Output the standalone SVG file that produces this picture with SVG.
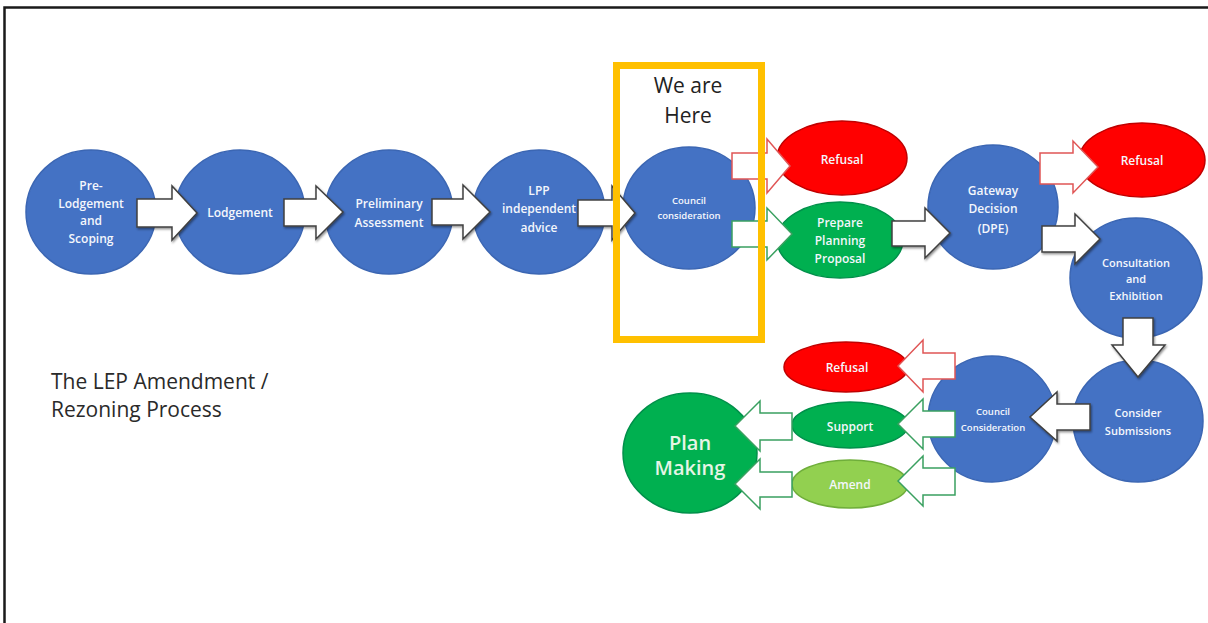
<svg xmlns="http://www.w3.org/2000/svg" width="1208" height="623" viewBox="0 0 1208 623">
<defs>
<filter id="sh" x="-20%" y="-20%" width="140%" height="140%">
<feDropShadow dx="1" dy="1.5" stdDeviation="1" flood-color="#000000" flood-opacity="0.45"/>
</filter>
</defs>
<style>
.blue{fill:#4472C4;stroke:#3b66b3;stroke-width:1.5}
.red{fill:#FF0000;stroke:#c00000;stroke-width:1.5}
.green{fill:#00B050;stroke:#00904a;stroke-width:1.5}
.lgreen{fill:#92D050;stroke:#6fae3a;stroke-width:1.5}
text{font-family:"Open Sans","Liberation Sans",sans-serif;text-anchor:middle;dominant-baseline:central}
.t{fill:#f4f7fc;font-size:12px;font-weight:600}
.ts{fill:#f4f7fc;font-size:9.5px;font-weight:600}
.tg{fill:#e6f5e6;font-size:20px;font-weight:600}
.arw{fill:#ffffff;stroke:#404040;stroke-width:1.5;stroke-linejoin:miter;filter:url(#sh)}
.arr{fill:#ffffff;stroke:#e05555;stroke-width:1.5}
.arg{fill:#ffffff;stroke:#3aa060;stroke-width:1.5}
</style>
<rect x="0" y="0" width="1208" height="623" fill="#ffffff"/>
<path d="M4.5,623 V7.5 H1208" fill="none" stroke="#1a1a1a" stroke-width="2.5"/>

<g id="node-prelodgement"><ellipse class="blue" cx="91" cy="212" rx="65" ry="62"/>
<text class="t" x="91" y="185">Pre-</text><text class="t" x="91" y="203">Lodgement</text><text class="t" x="91" y="220">and</text><text class="t" x="91" y="238">Scoping</text></g>
<g id="node-lodgement"><ellipse class="blue" cx="240" cy="212" rx="65" ry="62"/>
<text class="t" x="240" y="212">Lodgement</text></g>
<g id="node-preliminary"><ellipse class="blue" cx="389" cy="212" rx="64" ry="62"/>
<text class="t" x="389" y="203">Preliminary</text><text class="t" x="389" y="222">Assessment</text></g>
<g id="node-lpp"><ellipse class="blue" cx="539" cy="212" rx="66" ry="62"/>
<text class="t" x="539" y="190">LPP</text><text class="t" x="539" y="208">independent</text><text class="t" x="539" y="227">advice</text></g>
<g id="node-council1"><ellipse class="blue" cx="689" cy="208" rx="66" ry="61"/>
<text class="ts" x="689" y="200">Council</text><text class="ts" x="689" y="215">consideration</text></g>
<g id="node-refusal1"><ellipse class="red" cx="842" cy="158" rx="65" ry="37"/>
<text class="t" x="842" y="159">Refusal</text></g>
<g id="node-prepare"><ellipse class="green" cx="840" cy="240" rx="63" ry="38"/>
<text class="t" x="840" y="222">Prepare</text><text class="t" x="840" y="240">Planning</text><text class="t" x="840" y="258">Proposal</text></g>
<g id="node-gateway"><ellipse class="blue" cx="993" cy="207" rx="65" ry="62"/>
<text class="t" x="993" y="190">Gateway</text><text class="t" x="993" y="208">Decision</text><text class="t" x="993" y="228">(DPE)</text></g>
<g id="node-refusal2"><ellipse class="red" cx="1142" cy="160" rx="63" ry="37"/>
<text class="t" x="1142" y="160">Refusal</text></g>
<g id="node-consultation"><ellipse class="blue" cx="1136" cy="278" rx="66" ry="60"/>
<text class="ts" x="1136" y="262" style="font-size:11px">Consultation</text><text class="ts" x="1136" y="278" style="font-size:11px">and</text><text class="ts" x="1136" y="295" style="font-size:11px">Exhibition</text></g>
<g id="node-consider"><ellipse class="blue" cx="1138" cy="421" rx="65" ry="61"/>
<text class="ts" x="1138" y="412" style="font-size:11px">Consider</text><text class="ts" x="1138" y="430" style="font-size:11px">Submissions</text></g>
<g id="node-council2"><ellipse class="blue" cx="992" cy="419" rx="64" ry="63"/>
<text class="ts" x="993" y="411">Council</text><text class="ts" x="993" y="427">Consideration</text></g>
<g id="node-refusal3"><ellipse class="red" cx="846" cy="367" rx="62" ry="25"/>
<text class="t" x="847" y="367">Refusal</text></g>
<g id="node-support"><ellipse class="green" cx="850" cy="425" rx="58" ry="23"/>
<text class="t" x="850" y="426">Support</text></g>
<g id="node-amend"><ellipse class="lgreen" cx="850" cy="484" rx="58" ry="24"/>
<text class="t" x="850" y="484">Amend</text></g>
<g id="node-planmaking"><ellipse class="green" cx="690" cy="453" rx="67" ry="60"/>
<text class="tg" x="690" y="442">Plan</text><text class="tg" x="690" y="467">Making</text></g>

<g id="connectors">
<path class="arw" d="M137,199 H172 V186 L197,213 L172,240 V227 H137 Z"/>
<path class="arw" d="M284,199 H316 V186 L343,212 L316,239 V226 H284 Z"/>
<path class="arw" d="M432,199 H463 V185 L490,212 L463,239 V225 H432 Z"/>
<path class="arw" d="M578,200 H612 V186 L635,213 L612,240 V226 H578 Z"/>
<path class="arr" d="M732,153 H767 V139 L790,166 L767,193 V179 H732 Z"/>
<path class="arg" d="M732,221 H767 V208 L792,234 L767,260 V247 H732 Z"/>
<path class="arw" d="M892,221 H925 V208 L950,233 L925,258 V246 H892 Z"/>
<path class="arr" d="M1040,153 H1073 V141 L1098,167 L1073,193 V184 H1040 Z"/>
<path class="arw" d="M1042,226 H1075 V214 L1100,239 L1075,264 V252 H1042 Z"/>
<path class="arw" d="M1123,318 H1153 V345 H1165 L1138,377 L1112,345 H1123 Z"/>
<path class="arw" d="M1090,404 H1057 V392 L1030,417 L1057,441 V430 H1090 Z"/>
<path class="arr" d="M955,353 H923 V340 L898,366 L923,392 V379 H955 Z"/>
<path class="arg" d="M955,411 H923 V399 L898,424 L923,449 V437 H955 Z"/>
<path class="arg" d="M955,468 H923 V456 L898,481 L923,506 V495 H955 Z"/>
<path class="arg" d="M792,413 H760 V401 L735,426 L760,451 V440 H792 Z"/>
<path class="arg" d="M792,472 H760 V459 L735,484 L760,509 V497 H792 Z"/>
</g>

<g id="here-box">
<rect x="616.5" y="65.5" width="145" height="274" fill="none" stroke="#FFC000" stroke-width="7"/>
<text x="688" y="85" style="font-size:21px;fill:#222222;font-weight:500">We are</text>
<text x="688" y="115" style="font-size:21px;fill:#222222;font-weight:500">Here</text>
</g>

<g id="title">
<text x="51" y="381" style="font-size:21px;fill:#2a2a2a;text-anchor:start">The LEP Amendment /</text>
<text x="51" y="409" style="font-size:21px;fill:#2a2a2a;text-anchor:start">Rezoning Process</text>
</g>
</svg>
